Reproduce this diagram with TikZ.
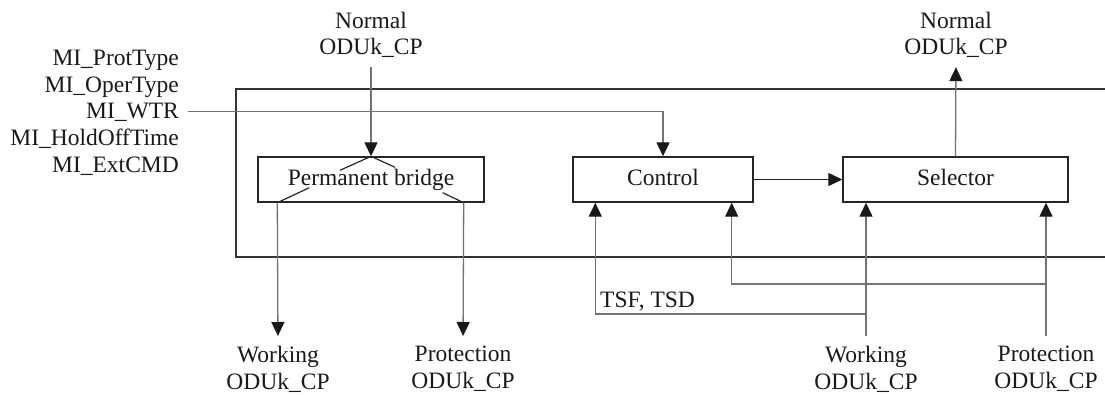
\documentclass[tikz,border=0pt]{standalone}
\usepackage{fontspec}
\setmainfont{Liberation Serif}
\usetikzlibrary{arrows.meta,calc}
\begin{document}
\begin{tikzpicture}[x=1pt,y=-1pt,font=\fontsize{23.5}{26.7}\selectfont]
\tikzset{
  box/.style={draw=black!85, line width=1.4pt, inner sep=0pt, minimum height=45pt,
              text height=16pt, text depth=5pt, text=black!90},
  conn/.style={draw=black!55, line width=1.3pt},
  tip/.style={-{Triangle[length=14pt,width=13pt,color=black!90]}},
  sym/.style={draw=black!85, line width=1.2pt},
  lbl/.style={inner sep=0pt, align=center, text=black!90},
  milbl/.style={inner sep=0pt, anchor=base east, text=black!90},
  frame/.style={draw=black!80, line width=1.8pt}
}
\useasboundingbox (0,0) rectangle (1105,394);

% function frame, open to the right
\draw[frame] (1105,89) -- (236,89) -- (236,257) -- (1105,257);

% processes
\node[box, minimum width=226pt] (bridge) at (371,179.5) {Permanent bridge};
\node[box, minimum width=180pt] (control) at (663,179.5) {Control};
\node[box, minimum width=225pt] (selector) at (955.5,179.5) {Selector};

% bridge symbol
\draw[sym] (bridge.north) -- ++(-31,14);
\draw[sym] (bridge.north) -- ++(24,11);
\draw[sym] ([xshift=20pt]bridge.south west) -- ++(32,-15);
\draw[sym] ([xshift=-21pt]bridge.south east) -- ++(-21,-10);

% access points
\node[lbl] (nL) at (371,35) {Normal\\ODUk\_CP};
\node[lbl] (nR) at (956,35) {Normal\\ODUk\_CP};
\node[lbl, anchor=north] (wL) at (278,346) {Working\\ODUk\_CP};
\node[lbl, anchor=north] (pL) at (463,346) {Protection\\ODUk\_CP};
\node[lbl, anchor=north] (wR) at (866,346) {Working\\ODUk\_CP};
\node[lbl, anchor=north] (pR) at (1046,346) {Protection\\ODUk\_CP};

% management inputs
\node[milbl] (prot) at (179,65) {MI\_ProtType};
\node[milbl] (oper) at (179,92) {MI\_OperType};
\node[milbl] (wtr) at (179,118) {MI\_WTR};
\node[milbl] (hold) at (179,145) {MI\_HoldOffTime};
\node[milbl] (ext) at (179,172) {MI\_ExtCMD};

\node[inner sep=0pt, anchor=base west, text=black!90] (tsf) at (600,307) {TSF, TSD};

% signal flow
\draw[conn,tip,shorten <=9pt] (nL.south) -- (bridge.north);
\draw[conn,tip,shorten >=10pt] ([xshift=20pt]bridge.south west) -- (wL.north);
\draw[conn,tip,shorten >=10pt] ([xshift=-21pt]bridge.south east) -- (pL.north);
\draw[conn,tip] ([xshift=9pt]wtr.east) -| (control.north);
\draw[sym,tip] (control.east) -- (selector.west);
\draw[conn,tip,shorten >=9pt] (selector.north) -- (nR.south);
\draw[conn,tip,shorten <=10pt] (wR.north) -- (wR.north |- selector.south);
\draw[conn,tip,shorten <=10pt] (pR.north) -- (pR.north |- selector.south);

% status branches to control
\coordinate (wsplit) at (866,314);
\coordinate (psplit) at (1046,284);
\draw[conn,tip] (wsplit) -| ([xshift=23pt]control.south west);
\draw[conn,tip] (psplit) -| ([xshift=-22pt]control.south east);
\end{tikzpicture}
\end{document}
